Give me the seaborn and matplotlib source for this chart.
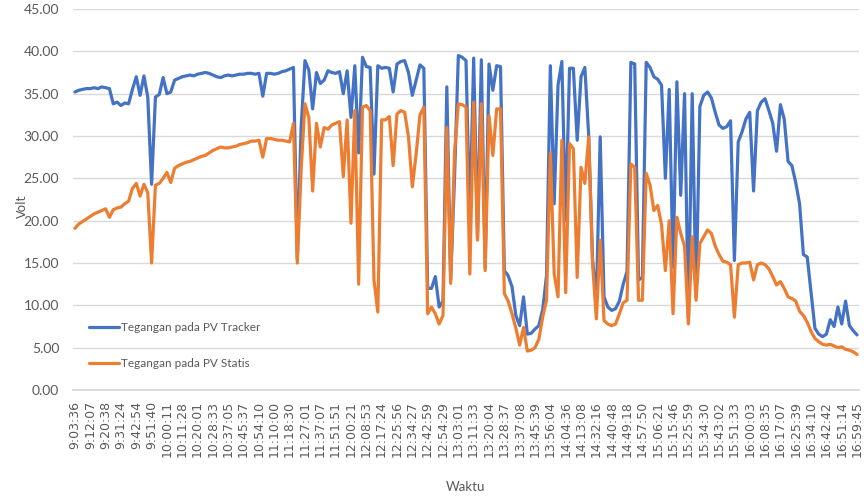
import numpy as np
import pandas as pd
import seaborn as sns
import matplotlib.pyplot as plt

# time labels shown on the category axis (every 4th sample)
time_labels = ['9:03:36', '9:12:07', '9:20:38', '9:31:24', '9:42:54', '9:51:40',
               '10:00:11', '10:11:28', '10:20:01', '10:28:33', '10:37:05', '10:45:37',
               '10:54:10', '11:10:00', '11:18:30', '11:27:01', '11:37:07', '11:51:51',
               '12:00:21', '12:08:53', '12:17:24', '12:25:56', '12:34:27', '12:42:59',
               '12:54:29', '13:03:01', '13:11:33', '13:20:04', '13:28:37', '13:37:08',
               '13:45:39', '13:56:04', '14:04:36', '14:13:08', '14:32:16', '14:40:48',
               '14:49:18', '14:57:50', '15:06:21', '15:15:46', '15:25:59', '15:34:30',
               '15:43:02', '15:51:33', '16:00:03', '16:08:35', '16:17:07', '16:25:39',
               '16:34:10', '16:42:42', '16:51:14', '16:59:45']

# Tegangan pada PV Tracker (V)
tracker = [35.2, 35.4, 35.5, 35.6, 35.6, 35.7, 35.6, 35.8, 35.7, 35.6,
           33.8, 34.0, 33.6, 33.9, 33.8, 35.5, 37.0, 34.8, 37.1, 34.6,
           24.3, 34.6, 34.9, 36.9, 35.0, 35.2, 36.6, 36.8, 37.0, 37.1,
           37.2, 37.1, 37.3, 37.4, 37.5, 37.4, 37.2, 37.0, 36.9, 37.1,
           37.2, 37.1, 37.2, 37.3, 37.3, 37.4, 37.4, 37.3, 37.4, 34.7,
           37.4, 37.4, 37.3, 37.4, 37.6, 37.7, 37.9, 38.1, 15.5, 31.0,
           38.9, 37.8, 33.2, 37.5, 36.2, 36.6, 37.7, 37.5, 37.4, 37.6,
           35.0, 37.7, 32.2, 38.3, 28.0, 39.3, 38.2, 38.1, 25.5, 38.3,
           38.0, 38.1, 38.0, 35.2, 38.5, 38.8, 38.9, 37.5, 34.8, 36.6,
           38.4, 38.0, 12.0, 12.0, 13.4, 9.8, 10.5, 35.8, 13.0, 25.0,
           39.5, 39.3, 38.9, 20.0, 39.2, 18.0, 39.0, 14.5, 38.5, 35.4,
           38.3, 38.2, 14.1, 13.5, 12.2, 8.8, 7.6, 11.0, 6.6, 6.7,
           7.2, 7.6, 9.5, 13.5, 38.3, 22.0, 36.0, 38.8, 20.0, 38.0,
           38.0, 29.5, 37.0, 38.1, 30.0, 15.5, 10.5, 29.9, 11.0, 9.8,
           9.4, 9.6, 10.5, 12.5, 14.0, 38.7, 38.5, 13.0, 13.3, 38.7,
           38.1, 37.0, 36.7, 36.0, 25.0, 35.5, 14.5, 36.4, 23.0, 35.0,
           8.5, 35.0, 11.0, 33.5, 34.8, 35.2, 34.5, 32.8, 31.3, 30.9,
           31.1, 31.8, 15.3, 29.3, 30.5, 32.0, 32.8, 23.5, 33.0, 34.0,
           34.4, 33.0, 31.5, 28.2, 33.7, 32.0, 27.0, 26.5, 24.5, 22.0,
           16.0, 15.7, 11.5, 7.3, 6.6, 6.3, 6.6, 8.3, 7.5, 9.8,
           7.8, 10.5, 7.6, 7.0, 6.5]

# Tegangan pada PV Statis (V)
statis = [19.1, 19.6, 19.9, 20.2, 20.5, 20.8, 21.0, 21.2, 21.4, 20.4,
          21.3, 21.5, 21.6, 22.0, 22.3, 23.8, 24.4, 22.9, 24.3, 23.3,
          15.0, 24.2, 24.4, 25.0, 25.7, 24.5, 26.2, 26.5, 26.7, 26.9,
          27.0, 27.2, 27.4, 27.6, 27.7, 28.0, 28.3, 28.5, 28.7, 28.6,
          28.6, 28.7, 28.8, 29.0, 29.1, 29.2, 29.4, 29.4, 29.5, 27.5,
          29.7, 29.7, 29.6, 29.5, 29.5, 29.4, 29.3, 31.5, 15.0, 26.0,
          33.8, 32.2, 23.5, 31.5, 28.7, 31.0, 30.8, 31.3, 31.5, 31.7,
          25.2, 31.9, 19.7, 33.0, 12.5, 33.4, 33.6, 33.0, 13.0, 9.2,
          31.9, 31.9, 32.3, 26.5, 32.6, 33.0, 32.8, 29.9, 24.0, 27.9,
          32.5, 33.4, 9.0, 9.8, 9.0, 7.8, 8.8, 31.0, 12.6, 28.0,
          33.8, 33.7, 33.4, 13.7, 34.0, 17.7, 33.8, 14.1, 32.4, 27.7,
          33.2, 33.2, 11.4, 10.5, 9.0, 7.3, 5.3, 7.4, 4.6, 4.7,
          5.0, 6.0, 8.6, 10.6, 28.0, 13.7, 11.0, 29.5, 11.5, 29.1,
          28.5, 13.3, 26.3, 24.4, 29.9, 15.0, 8.4, 17.7, 8.2, 7.8,
          7.6, 7.8, 9.0, 10.3, 10.6, 26.7, 26.3, 10.6, 10.6, 25.6,
          24.2, 21.2, 21.8, 19.5, 14.1, 20.0, 9.0, 20.4, 18.5, 17.0,
          7.8, 18.1, 10.6, 17.3, 18.1, 18.9, 18.5, 17.0, 16.0, 15.2,
          15.1, 14.8, 8.6, 14.8, 15.0, 15.0, 15.1, 13.0, 14.8, 15.0,
          14.8, 14.3, 13.4, 12.4, 12.8, 12.0, 11.0, 10.8, 10.5, 9.3,
          8.8, 8.0, 6.9, 6.1, 5.7, 5.4, 5.3, 5.4, 5.2, 5.0,
          5.1, 4.8, 4.7, 4.5, 4.2]

n = len(tracker)
df = pd.DataFrame({
    'idx': list(range(n)) * 2,
    'volt': tracker + statis,
    'seri': ['Tegangan pada PV Tracker'] * n + ['Tegangan pada PV Statis'] * n,
})

sns.set_theme(style="white")
plt.rcParams['font.family'] = ['Lato', 'DejaVu Sans']

grey = '#595959'
fig = plt.figure(figsize=(8.67, 5.01), dpi=100)
ax = fig.add_axes([73 / 867, 1 - 390 / 501, (859 - 73) / 867, (390 - 9) / 501])

sns.lineplot(data=df, x='idx', y='volt', hue='seri',
             palette=['#4472C4', '#ED7D31'], linewidth=2.3, ax=ax)

ax.set_xlim(-0.5, n - 0.5)
ax.set_ylim(0, 45)
ax.set_yticks(np.arange(0, 46, 5))
ax.set_yticklabels([f"{v:.2f}" for v in np.arange(0, 46, 5)], fontsize=10, color=grey)
ax.set_xticks(range(0, n, 4))
ax.set_xticklabels(time_labels, rotation=90, fontsize=9, color=grey,
                   family='DejaVu Sans')
ax.tick_params(axis='both', length=0)
ax.tick_params(axis='x', pad=8)
ax.tick_params(axis='y', pad=10)

ax.yaxis.grid(True, color='#D9D9D9', linewidth=1)
ax.set_axisbelow(True)
for s in ['top', 'right', 'left']:
    ax.spines[s].set_visible(False)
ax.spines['bottom'].set_color('#D9D9D9')

ax.set_xlabel('')
ax.set_ylabel('')
fig.text(22 / 867, 1 - 206 / 501, 'Volt', rotation=90, ha='center', va='center',
         fontsize=9, color=grey, family='DejaVu Sans')
fig.text(465 / 867, 1 - 487 / 501, 'Waktu', ha='center', va='center',
         fontsize=9.5, color=grey)

ax.legend(loc='upper left', bbox_to_anchor=(89 / 867, 1 - 322 / 501),
          bbox_transform=fig.transFigure, frameon=False, fontsize=8.5,
          handlelength=2.5, handletextpad=0.2, labelspacing=2.1,
          borderpad=0, borderaxespad=0, labelcolor=grey)

fig.savefig('out.png', dpi=100)
